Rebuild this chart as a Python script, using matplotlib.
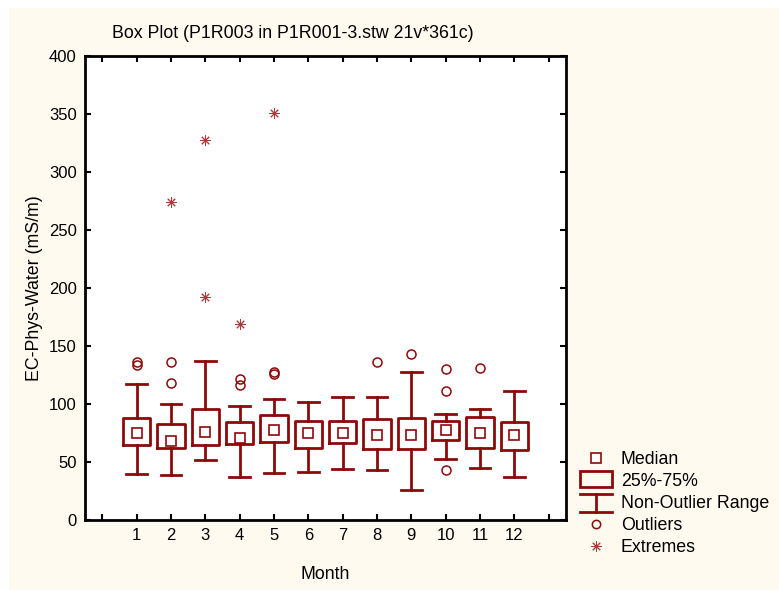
import numpy as np
import matplotlib
matplotlib.use("Agg")
import matplotlib.pyplot as plt
from matplotlib.lines import Line2D
from matplotlib.patches import Rectangle
from matplotlib.legend_handler import HandlerBase

plt.rcParams['font.family'] = ['Liberation Sans', 'DejaVu Sans']

months = [1, 2, 3, 4, 5, 6, 7, 8, 9, 10, 11, 12]
medians = [75, 68, 76, 71, 78, 75, 75, 73, 73, 78, 75, 73]
q1 = [64.6, 61.8, 64.6, 65.2, 67.5, 62.4, 66.7, 61.0, 61.5, 68.7, 61.8, 60.0]
q3 = [88.0, 82.8, 95.4, 84.8, 90.2, 85.6, 85.6, 87.0, 88.2, 85.0, 88.8, 84.5]
whisk_lo = [39.7, 38.5, 51.4, 36.8, 40.8, 41.7, 44.0, 43.1, 25.6, 52.6, 45.0, 37.0]
whisk_hi = [117, 99.7, 137.3, 98.6, 104.3, 101.4, 105.7, 106.3, 127.9, 91.4, 95.7, 110.9]
outliers = [[133.6, 136.5], [117.8, 136.5], [], [116.4, 121.6], [126.1, 127.9],
            [], [], [136.5], [143.1], [43.1, 111.5, 129.9], [131.3], []]
extremes = [[], [274], [192.5, 327.6], [169], [351], [], [], [], [], [], [], []]

red = '#8c0a0a'
bg = '#fffaf0'
fs = 12.8

fig = plt.figure(figsize=(7.79, 5.9), dpi=100)
fig.patches.append(Rectangle((9 / 779, 0), 1, 1 - 8 / 590, transform=fig.transFigure,
                             facecolor=bg, edgecolor='none', zorder=-10))
ax = fig.add_axes([85 / 779, 70 / 590, 481 / 779, 464 / 590])
ax.set_facecolor('white')

stats = []
for i in range(len(months)):
    stats.append(dict(med=medians[i], q1=q1[i], q3=q3[i],
                      whislo=whisk_lo[i], whishi=whisk_hi[i], fliers=[]))

ax.bxp(stats, positions=months, widths=0.8, showfliers=False, manage_ticks=False,
       boxprops=dict(color=red, linewidth=2),
       whiskerprops=dict(color=red, linewidth=2),
       capprops=dict(color=red, linewidth=2),
       medianprops=dict(linestyle='none'),
       capwidths=0.6)

ax.plot(months, medians, linestyle='none', marker='s', markersize=6.5,
        markerfacecolor='white', markeredgecolor=red, markeredgewidth=1.2)

for m, vals in zip(months, outliers):
    if vals:
        ax.plot([m] * len(vals), vals, linestyle='none', marker='o', markersize=6.5,
                markerfacecolor='none', markeredgecolor=red, markeredgewidth=1.1)
for m, vals in zip(months, extremes):
    if vals:
        ax.plot([m] * len(vals), vals, linestyle='none', marker=(8, 2, 0), markersize=7.5,
                color='#a83a3a', markeredgewidth=0.7)

ax.set_xlim(-0.5, 13.5)
ax.set_ylim(0, 400)
ax.set_xticks(range(0, 14))
ax.set_xticklabels([''] + [str(m) for m in months] + [''])
ax.set_yticks(range(0, 401, 50))
ax.tick_params(direction='in', top=True, right=True, length=4, width=1.5,
               labelsize=12, pad=6)
for s in ax.spines.values():
    s.set_linewidth(2)

ax.set_xlabel('Month', fontsize=fs, labelpad=16)
ax.set_ylabel('EC-Phys-Water (mS/m)', fontsize=fs, labelpad=4)
fig.text(112 / 779, 1 - 33 / 590, 'Box Plot (P1R003 in P1R001-3.stw 21v*361c)',
         fontsize=fs, va='center', ha='left')


class RangeHandler(HandlerBase):
    def create_artists(self, legend, orig, xd, yd, w, h, fontsize, trans):
        cx = xd + w / 2
        lines = [Line2D([xd, xd + w], [yd + h + 1, yd + h + 1]),
                 Line2D([cx, cx], [yd - 3, yd + h + 1]),
                 Line2D([xd, xd + w], [yd - 3, yd - 3])]
        for ln in lines:
            ln.set_color(red)
            ln.set_linewidth(2)
            ln.set_transform(trans)
        return lines


class BoxHandler(HandlerBase):
    def create_artists(self, legend, orig, xd, yd, w, h, fontsize, trans):
        r = Rectangle((xd, yd - 1), w, h + 3, facecolor='none', edgecolor=red,
                      linewidth=2, transform=trans)
        return [r]


h_med = Line2D([], [], linestyle='none', marker='s', markersize=6.5,
               markerfacecolor='white', markeredgecolor=red, markeredgewidth=1.2)
h_box = Rectangle((0, 0), 1, 1)
h_rng = Line2D([], [])
h_out = Line2D([], [], linestyle='none', marker='o', markersize=6,
               markerfacecolor='none', markeredgecolor=red, markeredgewidth=1.1)
h_ext = Line2D([], [], linestyle='none', marker=(8, 2, 0), markersize=7.5,
               color='#a83a3a', markeredgewidth=0.7)

fig.legend([h_med, h_box, h_rng, h_out, h_ext],
           ['Median', '25%-75%', 'Non-Outlier Range', 'Outliers', 'Extremes'],
           handler_map={h_box: BoxHandler(), h_rng: RangeHandler()},
           loc='upper left', bbox_to_anchor=(571 / 779, 1 - 442 / 590),
           frameon=False, fontsize=fs, handlelength=1.8, handletextpad=0.5,
           labelspacing=0.28, borderpad=0)

fig.savefig('out.png', dpi=100, facecolor='white')
